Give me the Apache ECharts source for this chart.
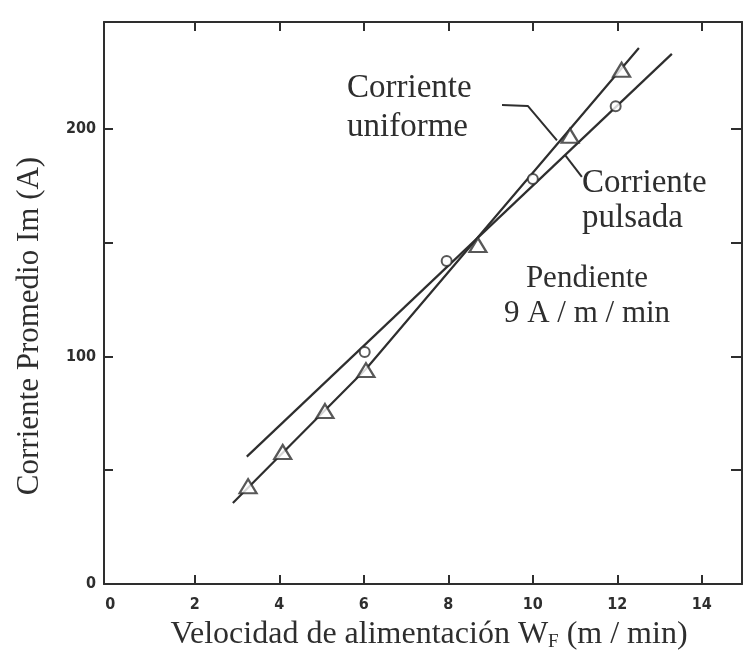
<!DOCTYPE html>
<html>
<head>
<meta charset="utf-8">
<script src="https://cdn.jsdelivr.net/npm/echarts@6/dist/echarts.min.js"></script>
<style>
  html, body { margin: 0; padding: 0; background: #ffffff; }
  #chart { width: 743px; height: 659px; }
</style>
</head>
<body>
<div id="chart"></div>
<script>
// Axis ticks and labels
const xLabelValues = [0, 2, 4, 6, 8, 10, 12, 14];
const xTickValues = [2, 4, 6, 8, 10, 12, 14];
const yTickValues = [50, 100, 150, 200];
const yLabelValues = [0, 100, 200];

// Measured points: constant (uniform) current, triangles
const uniformeX = [3.26, 4.08, 5.08, 6.05, 8.70, 10.88, 12.10];
const uniformeY = [43, 58, 76, 94, 149, 197, 226];

// Measured points: pulsed current, circles
const pulsadaX = [6.02, 7.96, 10.00, 11.96];
const pulsadaY = [102, 142, 178, 210];

// Drawn trend lines through each set of points
const uniformeFitX = [2.90, 6.05, 12.51];
const uniformeFitY = [35.6, 94.5, 235.6];
const pulsadaFitX = [3.23, 13.29];
const pulsadaFitY = [56, 233];

// Leader lines from the labels to the curves
const leaderUniformeX = [9.27, 9.88, 10.57];
const leaderUniformeY = [210.5, 210.1, 195];
const leaderPulsadaX = [10.76, 11.16];
const leaderPulsadaY = [188.6, 178.9];

const zip = (xs, ys) => xs.map((x, i) => [x, ys[i]]);

const INK = '#2e2e2e';
const SERIF = '"Liberation Serif", "DejaVu Serif", serif';
const TICKFONT = '"DejaVu Sans Condensed", "DejaVu Sans", sans-serif';

const chart = echarts.init(document.getElementById('chart'), null, { renderer: 'canvas' });

const frameAxis = {
  type: 'value',
  min: -0.15,
  max: 14.95,
  axisLine: { show: true, onZero: false, lineStyle: { color: INK, width: 2 } },
  axisTick: { show: true, inside: true, length: 9, customValues: xTickValues, lineStyle: { color: INK, width: 2 } },
  splitLine: { show: false }
};

const lineSeries = (name, xs, ys, width) => ({
  name: name,
  type: 'line',
  data: zip(xs, ys),
  showSymbol: false,
  symbol: 'none',
  silent: true,
  lineStyle: { color: INK, width: width },
  z: 2
});

chart.setOption({
  animation: false,
  backgroundColor: '#ffffff',
  grid: { left: 104, right: 1, top: 22, bottom: 75, containLabel: false },
  xAxis: [
    Object.assign({}, frameAxis, {
      position: 'bottom',
      axisLabel: {
        show: true, customValues: xLabelValues, margin: 13,
        color: INK, fontFamily: TICKFONT, fontWeight: 'bold', fontSize: 16
      }
    }),
    Object.assign({}, frameAxis, {
      position: 'top',
      axisLabel: { show: false }
    })
  ],
  yAxis: [
    {
      type: 'value', min: 0, max: 247, position: 'left',
      axisLine: { show: true, onZero: false, lineStyle: { color: INK, width: 2 } },
      axisTick: { show: true, inside: true, length: 9, customValues: yTickValues, lineStyle: { color: INK, width: 2 } },
      axisLabel: {
        show: true, customValues: yLabelValues, margin: 8,
        color: INK, fontFamily: TICKFONT, fontWeight: 'bold', fontSize: 16
      },
      splitLine: { show: false }
    },
    {
      type: 'value', min: 0, max: 247, position: 'right',
      axisLine: { show: true, onZero: false, lineStyle: { color: INK, width: 2 } },
      axisTick: { show: true, inside: true, length: 11, customValues: yTickValues, lineStyle: { color: INK, width: 2 } },
      axisLabel: { show: false },
      splitLine: { show: false }
    }
  ],
  series: [
    lineSeries('Ajuste uniforme', uniformeFitX, uniformeFitY, 2.2),
    lineSeries('Ajuste pulsada', pulsadaFitX, pulsadaFitY, 2.2),
    lineSeries('Guía uniforme', leaderUniformeX, leaderUniformeY, 2),
    lineSeries('Guía pulsada', leaderPulsadaX, leaderPulsadaY, 2),
    {
      name: 'Corriente uniforme',
      type: 'scatter',
      data: zip(uniformeX, uniformeY),
      symbol: 'triangle',
      symbolSize: [17, 14],
      itemStyle: { color: '#ffffff', borderColor: INK, borderWidth: 2.2 },
      z: 3
    },
    {
      name: 'Corriente pulsada',
      type: 'scatter',
      data: zip(pulsadaX, pulsadaY),
      symbol: 'circle',
      symbolSize: 10,
      itemStyle: { color: '#ffffff', borderColor: INK, borderWidth: 2 },
      z: 3
    }
  ],
  graphic: [
    {
      type: 'text', x: 429, y: 635,
      style: {
        text: '{n|Velocidad de alimentación W}{s|F}{n| (m / min)}',
        align: 'center', verticalAlign: 'middle', fill: INK,
        rich: {
          n: { fontFamily: SERIF, fontSize: 32, color: INK, lineHeight: 36 },
          s: { fontFamily: SERIF, fontSize: 19, color: INK, lineHeight: 36, padding: [14, 0, 0, 0] }
        }
      }
    },
    {
      type: 'text', x: 30, y: 326, rotation: Math.PI / 2,
      style: {
        text: 'Corriente Promedio Im (A)',
        align: 'center', verticalAlign: 'middle', fill: INK,
        fontFamily: SERIF, fontSize: 31
      }
    },
    {
      type: 'text', x: 347, y: 108,
      style: {
        text: 'Corriente\nuniforme',
        align: 'left', verticalAlign: 'middle', fill: INK,
        fontFamily: SERIF, fontSize: 33, lineHeight: 39
      }
    },
    {
      type: 'text', x: 582, y: 201,
      style: {
        text: 'Corriente\npulsada',
        align: 'left', verticalAlign: 'middle', fill: INK,
        fontFamily: SERIF, fontSize: 33, lineHeight: 35
      }
    },
    {
      type: 'text', x: 587, y: 296,
      style: {
        text: 'Pendiente\n9 A / m / min',
        align: 'center', verticalAlign: 'middle', fill: INK,
        fontFamily: SERIF, fontSize: 31, lineHeight: 35
      }
    }
  ]
});
</script>
</body>
</html>
